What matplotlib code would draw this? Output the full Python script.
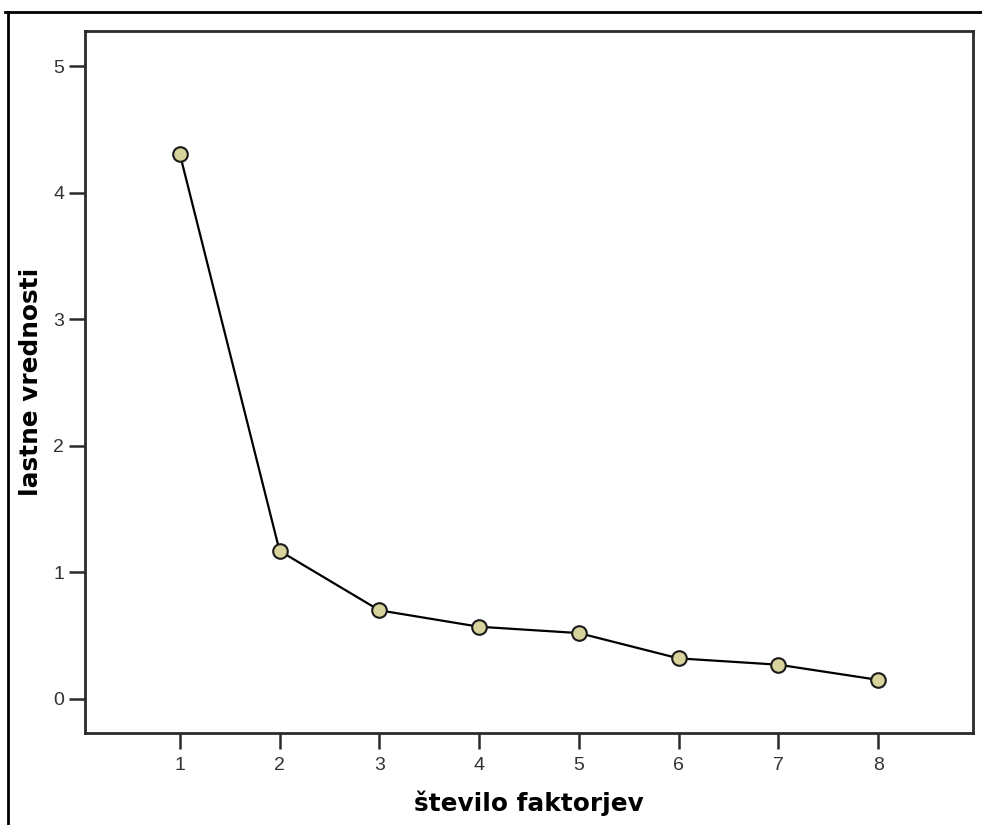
import matplotlib
matplotlib.use("Agg")
import matplotlib.pyplot as plt
from matplotlib.lines import Line2D

# scree plot data
factors = [1, 2, 3, 4, 5, 6, 7, 8]
eigenvalues = [4.31, 1.17, 0.70, 0.57, 0.52, 0.32, 0.27, 0.15]
y_ticks = [0, 1, 2, 3, 4, 5]

fig = plt.figure(figsize=(9.82, 8.25), dpi=100)
ax = fig.add_axes([85 / 982, 92 / 825, 888 / 982, 702 / 825])

ax.plot(factors, eigenvalues, color="black", linewidth=1.6,
        marker="o", markersize=10.5, markerfacecolor="#d8d39c",
        markeredgecolor="#1a1a1a", markeredgewidth=1.5, zorder=3)

ax.set_xlim(0.05, 8.95)
ax.set_ylim(-0.27, 5.28)
ax.set_xticks(factors)
ax.set_yticks(y_ticks)
ax.tick_params(direction="out", length=11.5, width=1.8, color="#2a2a2a",
               labelsize=14, labelcolor="#333333",
               labelfontfamily="Liberation Sans")
ax.tick_params(axis="x", pad=5.5)
ax.tick_params(axis="y", pad=3.5)
for s in ax.spines.values():
    s.set_color("#2a2a2a")
    s.set_linewidth(2)

ax.set_xlabel("število faktorjev", fontsize=17.8, fontweight="bold")
ax.set_ylabel("lastne vrednosti", fontsize=17.8, fontweight="bold")
ax.xaxis.set_label_coords(0.5, (733 - 803) / 702)
ax.xaxis.label.set_va("center")
ax.yaxis.set_label_coords((31 - 85) / 888, 0.5)
ax.yaxis.label.set_va("center")

# outer frame of the embedded picture
fig.add_artist(Line2D([5 / 982, 1], [1 - 12 / 825, 1 - 12 / 825],
                      transform=fig.transFigure, color="black", linewidth=2))
fig.add_artist(Line2D([8 / 982, 8 / 982], [0, 1 - 12 / 825],
                      transform=fig.transFigure, color="black", linewidth=2))

fig.savefig("out.png", dpi=100)
